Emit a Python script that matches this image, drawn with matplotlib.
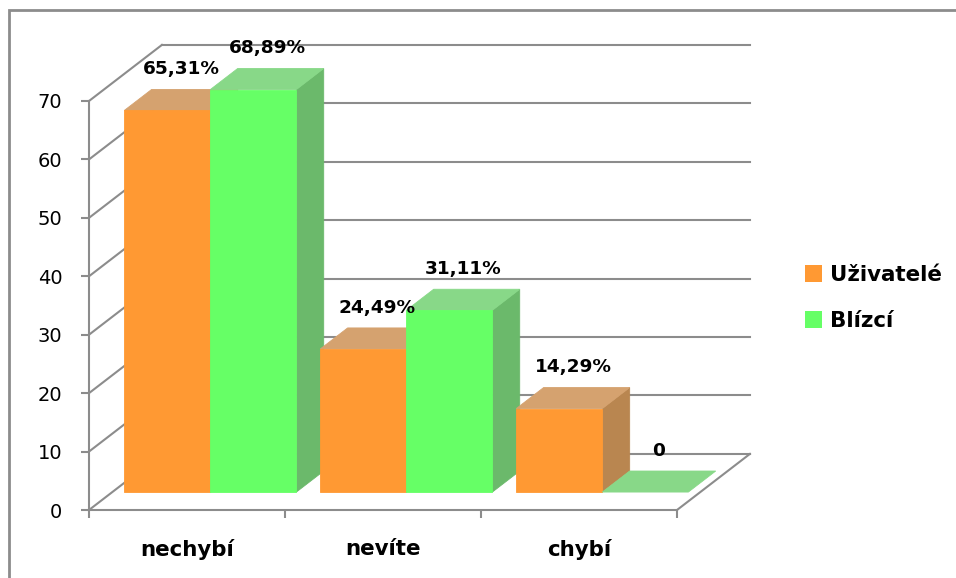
import matplotlib
matplotlib.use('Agg')
import matplotlib.pyplot as plt
from matplotlib.patches import Polygon, Patch, Rectangle

# data
categories = ['nechybí', 'nevíte', 'chybí']
series_names = ['Uživatelé', 'Blízcí']
uzivatele = [65.31, 24.49, 14.29]
blizci = [68.89, 31.11, 0]
labels_uzivatele = ['65,31%', '24,49%', '14,29%']
labels_blizci = ['68,89%', '31,11%', '0']
y_ticks = [0, 10, 20, 30, 40, 50, 60, 70]

# colours (front, top, side)
ORANGE = ('#FF9933', '#D5A26F', '#B98650')
GREEN = ('#66FF66', '#88D888', '#6BB96B')
GRID = '#8C8C8C'
FONT = 'DejaVu Sans'

# fake 3D depth: full floor depth shifts by DEPTH_X categories and DEPTH_Y value units
DEPTH_X = 0.372
DEPTH_Y = 9.6
D0, D1 = 0.32, 0.695       # bar front / back depth
GAP = 0.061
BAR_W = 0.439


def proj(x, v, d):
    return (x + d * DEPTH_X, v + d * DEPTH_Y)


fig = plt.figure(figsize=(9.56, 5.78), dpi=100)
W, H = 956, 578
ax = fig.add_axes([89 / W, 68 / H, 588 / W, 409 / H])
ax.set_xlim(0, 3)
ax.set_ylim(0, 70)
ax.patch.set_visible(False)

for s in ['top', 'right']:
    ax.spines[s].set_visible(False)
for s in ['left', 'bottom']:
    ax.spines[s].set_color(GRID)
    ax.spines[s].set_linewidth(1.5)

ax.set_yticks(y_ticks)
ax.set_yticklabels([str(t) for t in y_ticks], fontsize=14, family=FONT)
ax.tick_params(axis='y', direction='out', length=5.8, width=1.5, color=GRID, pad=13.5)
ax.set_xticks([0, 1, 2, 3])
ax.set_xticklabels([])
ax.tick_params(axis='x', which='major', direction='out', length=5.8, width=1.5, color=GRID)
ax.set_xticks([0.5, 1.5, 2.5], minor=True)
ax.set_xticklabels(categories, minor=True, fontsize=15.4, fontweight='bold', family=FONT)
ax.tick_params(axis='x', which='minor', length=0, pad=21)

# walls and floor
for v in y_ticks:
    p0, p1 = proj(0, v, 0), proj(0, v, 1)
    ax.plot([p0[0], p1[0]], [p0[1], p1[1]], color=GRID, lw=1.5, clip_on=False, zorder=1)
    b0, b1 = proj(0, v, 1), proj(3, v, 1)
    ax.plot([b0[0], b1[0]], [b0[1], b1[1]], color=GRID, lw=1.5, clip_on=False, zorder=1)
r0, r1 = proj(3, 0, 0), proj(3, 0, 1)
ax.plot([r0[0], r1[0]], [r0[1], r1[1]], color=GRID, lw=1.5, clip_on=False, zorder=1)

# bars
z = 2
for i in range(len(categories)):
    for s, (vals, labs, cols) in enumerate([(uzivatele, labels_uzivatele, ORANGE),
                                            (blizci, labels_blizci, GREEN)]):
        v = vals[i]
        x0 = i + GAP + s * BAR_W
        x1 = x0 + BAR_W
        front = [proj(x0, 0, D0), proj(x1, 0, D0), proj(x1, v, D0), proj(x0, v, D0)]
        top = [proj(x0, v, D0), proj(x1, v, D0), proj(x1, v, D1), proj(x0, v, D1)]
        side = [proj(x1, 0, D0), proj(x1, 0, D1), proj(x1, v, D1), proj(x1, v, D0)]
        faces = [(top, cols[1])]
        if v > 0:
            faces = [(side, cols[2]), (top, cols[1]), (front, cols[0])]
        for pts, c in faces:
            ax.add_patch(Polygon(pts, closed=True, facecolor=c, edgecolor=c, lw=0.6,
                                 clip_on=False, zorder=z))
            z += 0.01
        lx = proj((x0 + x1) / 2, v, (D0 + D1) / 2)[0]
        ly = proj(0, v, D1)[1]
        ax.annotate(labs[i], (lx, ly), xytext=(0, 14.5), textcoords='offset points',
                    ha='center', va='center', fontsize=13.3, fontweight='bold',
                    family=FONT, annotation_clip=False, zorder=10)

# legend
handles = [Patch(facecolor=ORANGE[0], edgecolor='none'), Patch(facecolor=GREEN[0], edgecolor='none')]
fig.legend(handles, series_names, loc='center left', bbox_to_anchor=(805 / W, 1 - 298 / H),
           frameon=False, borderpad=0, borderaxespad=0, handlelength=0.8, handleheight=0.85,
           handletextpad=0.38, labelspacing=1.25,
           prop={'family': FONT, 'weight': 'bold', 'size': 15.4})

# outer frame: only left and top edges fall inside the picture
fig.add_artist(Rectangle((9 / W, -0.2), 1.5, 1.2 - 10 / H, transform=fig.transFigure,
                         facecolor='none', edgecolor=GRID, lw=2, zorder=0))

fig.savefig('out.png', dpi=100)
